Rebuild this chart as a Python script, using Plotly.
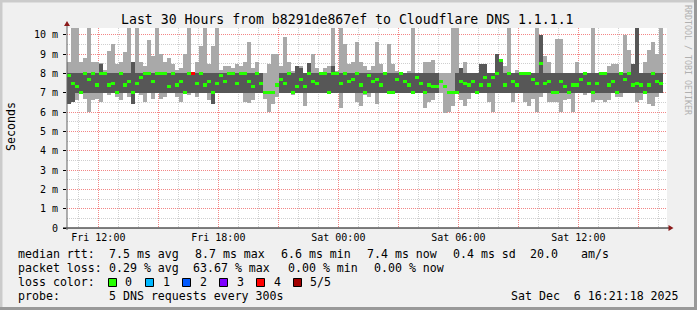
import plotly.graph_objects as go
import pandas as pd

# ---------------- data ----------------
START = "2025-12-05 10:26:00"
END = "2025-12-06 16:26:00"
STEP_MIN = 12  # one smoke column per 12 minutes

# top / bottom of the light smoke (ms)
smoke_hi = [8.6, 10.4, 10.4, 8.6, 8.8, 10.4, 8.6, 8.6, 8.55, 8.2,
            9.15, 9.5, 8.5, 8.6, 9.1, 10.4, 8.6, 10.4, 8.6, 8.4,
            9.75, 8.9, 10.4, 9.0, 8.6, 8.8, 8.5, 8.2, 8.3, 9.0,
            10.4, 8.0, 8.6, 9.4, 10.4, 8.5, 9.4, 10.4, 8.2, 8.4,
            8.4, 8.3, 8.5, 8.4, 8.6, 9.65, 8.3, 8.6, 8.0, 8.0,
            8.5, 9.0, 9.0, 8.4, 9.9, 8.6, 8.1, 8.4, 8.4, 8.0,
            8.55, 9.0, 8.3, 8.0, 8.3, 8.4, 10.4, 8.1, 10.4, 9.5,
            8.5, 8.6, 9.65, 8.6, 8.4, 8.2, 8.4, 9.6, 8.5, 8.0,
            9.5, 8.5, 8.1, 8.0, 8.0, 8.1, 10.4, 8.0, 8.0, 8.6,
            8.6, 8.7, 8.0, 8.0, 8.0, 8.0, 10.4, 10.4, 8.3, 8.6,
            8.0, 8.0, 8.0, 8.5, 8.5, 8.0, 8.0, 9.0, 8.7, 8.4,
            10.4, 8.0, 8.2, 8.0, 8.0, 8.0, 8.0, 10.4, 10.0, 8.9,
            8.6, 8.0, 9.8, 9.8, 8.0, 8.0, 8.0, 8.6, 8.0, 8.0,
            8.0, 10.4, 8.0, 8.0, 8.0, 8.4, 8.5, 8.5, 8.0, 10.0,
            9.2, 8.5, 10.4, 8.0, 8.6, 9.2, 9.65, 9.0, 10.4, None]

smoke_lo = [6.4, 6.5, 6.6, 7.0, 6.7, 6.0, 6.6, 6.7, 6.5, 7.0,
            6.9, 7.0, 6.8, 6.6, 7.0, 6.8, 6.4, 7.0, 6.9, 6.5,
            7.0, 6.7, 7.0, 6.7, 6.8, 7.0, 7.0, 6.8, 6.5, 7.0,
            6.9, 7.0, 6.8, 7.0, 7.0, 6.6, 6.4, 7.0, 7.0, 7.0,
            7.0, 7.0, 7.0, 7.0, 6.5, 6.45, 6.6, 7.0, 7.0, 6.7,
            6.0, 6.4, 6.8, 7.0, 7.0, 7.0, 6.9, 7.0, 7.0, 6.3,
            7.0, 7.0, 7.0, 7.0, 7.0, 7.0, 7.0, 7.0, 6.2, 7.0,
            7.0, 7.0, 6.5, 6.3, 6.9, 6.8, 7.0, 6.4, 7.0, 7.0,
            7.0, 7.0, 7.0, 7.0, 7.0, 7.0, 7.0, 7.0, 7.0, 6.2,
            6.5, 6.6, 7.0, 7.0, 5.95, 6.0, 6.3, 7.0, 6.6, 6.3,
            6.7, 7.0, 7.0, 7.0, 7.0, 6.5, 6.0, 7.0, 7.0, 7.0,
            7.0, 6.5, 7.0, 7.0, 6.5, 6.3, 6.7, 6.0, 6.8, 7.0,
            6.5, 6.5, 6.5, 6.0, 6.6, 6.7, 6.0, 7.0, 7.0, 6.9,
            7.0, 6.5, 6.6, 6.6, 6.5, 6.6, 7.0, 6.8, 6.8, 7.0,
            7.0, 7.0, 6.5, 6.6, 7.0, 6.4, 6.3, 6.8, 7.0, None]

# dense (dark) part of the smoke
dark_lo = [6.4, 6.5, 7, 7, 7, 7, 7, 7, 7, 7,
           7, 7, 7, 7, 7, 7, 6.4, 7, 7, 7,
           7, 7, 7, 7, 7, 7, 7, 7, 7, 7,
           7, 7, 7, 7, 7, 7, 6.4, 7, 7, 7,
           7, 7, 7, 7, 7, 7, 7, 7, 7, None,
           None, None, None, 7, 7, 7, 7, 7, 7, 7,
           7, 7, 7, 7, 7, 7, 7, 7, 7, 7,
           7, 7, 7, 7, 7, 7, 7, 7, 7, 7,
           7, 7, 7, 7, 7, 7, 7, 7, 7, 7,
           7, 7, 7, None, None, None, None, 7, 7, 7,
           7, 7, 7, 7, 7, 7, 7, 7, 7, 7,
           7, 7, 7, 7, 7, 7, 7, 7, 7, 7,
           7, 7, 7, 7, 7, 7, 7, 7, 7, 7,
           7, 7, 7, 7, 7, 7, 7, 7, 7, 7,
           7, 7, 7, 7, 7, 7, 7, 7, 7, None]

dark_hi = [8, 8, 8, 8, 8, 8, 8, 8, 8.5, 8,
           8, 8, 8, 8, 8, 8, 8.6, 8, 8, 8,
           8, 8, 8, 8, 8, 8, 8, 8, 8, 8,
           8, 8, 8, 8, 8, 8, 8, 8, 8, 8,
           8, 8, 8, 8, 8, 8, 8, 8, 8, None,
           None, None, None, 8, 8, 8, 8, 8.4, 8.3, 8,
           8.55, 8, 8, 8, 8, 8, 8.4, 8, 8, 8,
           8, 8, 8, 8, 8, 8, 8, 8, 8, 8,
           8, 8, 8, 8, 8, 8, 8, 8, 8, 8,
           8, 8, 8, None, None, None, None, 8, 8.3, 8,
           8, 8, 8, 8.5, 8.5, 8, 8, 9.0, 8.7, 8,
           8, 8, 8, 8, 8, 8, 8, 8, 10.0, 8,
           8, 8, 8, 8, 8, 8, 8, 8, 8, 8,
           8, 8, 8, 8, 8, 8, 8, 8, 8, 8,
           8, 8.5, 10.4, 8, 8, 8, 8, 8, 8, None]

median = [7.9, 7.5, 7.3, 7.0, 8.0, 7.7, 8.0, 7.4, 8.0, 8.0,
          7.4, 7.5, 7.0, 8.0, 7.4, 7.6, 7.0, 7.5, 7.8, 8.0,
          8.0, 7.6, 8.0, 8.0, 8.0, 7.3, 8.0, 7.4, 7.6, 7.0,
          8.0, 8.0, 7.5, 8.0, 7.4, 7.6, 7.0, 7.5, 7.9, 7.6,
          8.0, 8.0, 7.5, 8.0, 8.0, 7.6, 7.3, 8.0, 7.5, 7.0,
          7.0, 7.0, 7.4, 7.7, 7.5, 8.0, 7.0, 7.3, 7.7, 7.3,
          8.0, 7.6, 7.5, 8.0, 8.0, 7.0, 8.0, 8.0, 7.5, 8.0,
          7.6, 7.7, 8.0, 7.4, 7.0, 7.9, 7.6, 7.7, 7.4, 8.0,
          7.0, 7.0, 7.7, 8.0, 7.6, 7.4, 7.0, 7.8, 7.5, 7.0,
          7.4, 7.3, 7.3, 7.6, 7.3, 7.0, 7.0, 7.0, 7.6, 7.5,
          7.4, 7.6, 7.0, 7.4, 7.8, 7.4, 7.8, 8.0, 8.65, 7.4,
          8.0, 7.6, 7.4, 8.0, 8.0, 8.0, 7.7, 7.5, 8.5, 7.5,
          7.6, 7.0, 7.0, 7.6, 7.3, 7.0, 7.4, 7.4, 7.7, 8.0,
          7.5, 7.0, 7.5, 8.0, 8.0, 7.4, 7.6, 7.0, 8.0, 7.7,
          8.0, 7.4, 7.5, 7.4, 7.0, 7.4, 8.0, 7.6, 7.5, None]

# packets lost (of 5) per column
loss = [0] * 31 + [4] + [0] * 118

loss_colors = ["#26ff00", "#00b8ff", "#0059ff", "#7e00ff", "#ff0000", "#a10000"]
loss_labels = ["0", "1", "2", "3", "4", "5/5"]

tick_times = ["2025-12-05 12:00", "2025-12-05 15:00", "2025-12-05 18:00",
              "2025-12-05 21:00", "2025-12-06 00:00", "2025-12-06 03:00",
              "2025-12-06 06:00", "2025-12-06 09:00", "2025-12-06 12:00",
              "2025-12-06 15:00"]
tick_text = ["Fri 12:00", "", "Fri 18:00", "", "Sat 00:00", "",
             "Sat 06:00", "", "Sat 12:00", ""]
y_ticks = [0, 1, 2, 3, 4, 5, 6, 7, 8, 9, 10]
y_text = ["0", "1 m", "2 m", "3 m", "4 m", "5 m", "6 m", "7 m", "8 m", "9 m", "10 m"]

title = "Last 30 Hours from b8291de867ef to Cloudflare DNS 1.1.1.1"
legend_rows = [
    [("median rtt:", 16), ("7.5 ms avg", 107), ("8.7 ms max", 193), ("6.6 ms min", 279),
     ("7.4 ms now", 364.5), ("0.4 ms sd", 451), ("20.0", 528), ("am/s", 579)],
    [("packet loss:", 16), ("0.29 % avg", 107), ("63.67 % max", 190.5), ("0.00 % min", 286),
     ("0.00 % now", 372)],
    [("loss color:", 16)],
    [("probe:", 16), ("5 DNS requests every 300s", 107)],
]
stamp = "Sat Dec\u00a0\u00a06 16:21:18 2025"

# ---------------- geometry helpers ----------------
W_PX, H_PX = 697, 310
L, R, T, B = 67, 30, 28, 82
PW, PH = W_PX - L - R, H_PX - T - B
YMAX = 10.35


def px(x):
    return (x - L) / PW


def py(y):
    return (H_PX - B - y) / PH


N = len(smoke_hi)
times = pd.date_range(START, periods=N, freq=f"{STEP_MIN}min") + pd.Timedelta(minutes=STEP_MIN / 2)
WIDTH_MS = STEP_MIN * 60 * 1000

fig = go.Figure()


def floating_bars(base, top, colors):
    xs, bs, hs, cs = [], [], [], []
    for i, (t, b, tp) in enumerate(zip(times, base, top)):
        if b is None or tp is None:
            continue
        xs.append(t)
        bs.append(b)
        hs.append(tp - b)
        cs.append(colors[i] if isinstance(colors, list) else colors)
    fig.add_bar(x=xs, y=hs, base=bs, width=WIDTH_MS,
                marker=dict(color=cs, line=dict(width=0)),
                hoverinfo="skip", showlegend=False)


floating_bars(smoke_lo, smoke_hi, "#a9a9a9")
floating_bars(dark_lo, dark_hi, "#575757")
med_lo = [None if m is None else m - 0.08 for m in median]
med_hi = [None if m is None else m + 0.08 for m in median]
floating_bars(med_lo, med_hi, [loss_colors[l] for l in loss])

fig.update_layout(
    width=W_PX, height=H_PX,
    margin=dict(l=L, r=R, t=T, b=B, pad=0),
    paper_bgcolor="#f0f0f0", plot_bgcolor="#ffffff",
    barmode="overlay", bargap=0, showlegend=False,
    font=dict(family="DejaVu Sans Mono", size=10, color="#000000"),
)

fig.update_xaxes(
    type="date", range=[START, END],
    tickvals=tick_times, ticktext=tick_text, ticks="",
    showgrid=True, gridcolor="rgba(255,110,110,0.75)", griddash="1px,1px", gridwidth=1,
    minor=dict(dtick=3600000, tick0="2025-12-05 00:00", showgrid=True,
               gridcolor="#cfcfcf", griddash="1px,1px", gridwidth=1),
    showline=False, zeroline=False, tickfont=dict(size=10),
    ticklabelstandoff=2,
)
fig.update_yaxes(
    range=[0, YMAX], tickvals=y_ticks, ticktext=y_text,
    ticks="outside", ticklen=3, tickcolor="#000000",
    showgrid=True, gridcolor="rgba(255,110,110,0.75)", griddash="1px,1px", gridwidth=1,
    minor=dict(dtick=0.5, tick0=0, showgrid=True, gridcolor="#cfcfcf",
               griddash="1px,1px", gridwidth=1),
    showline=False, zeroline=False, tickfont=dict(size=10),
    ticklabelstandoff=3,
)

shapes = []
# axes
shapes.append(dict(type="line", xref="paper", yref="paper", x0=px(63), x1=px(670),
                   y0=0, y1=0, line=dict(color="#000000", width=1)))
shapes.append(dict(type="line", xref="paper", yref="paper", x0=0, x1=0,
                   y0=py(230), y1=py(24), line=dict(color="#606060", width=1)))
# arrows
shapes.append(dict(type="path", xref="paper", yref="paper",
                   path=f"M {px(668.5)} {py(225)} L {px(673.5)} {py(228)} L {px(668.5)} {py(231)} Z",
                   fillcolor="#8b1a1a", line=dict(width=0)))
shapes.append(dict(type="path", xref="paper", yref="paper",
                   path=f"M {px(64)} {py(26)} L {px(67)} {py(21)} L {px(70)} {py(26)} Z",
                   fillcolor="#8b1a1a", line=dict(width=0)))
# loss colour boxes
box_x = [108.5, 145.5, 182.5, 219.5, 256.5, 293.5]
label_x = [123, 160.5, 197.5, 234.5, 271.5, 308]
for bx, col in zip(box_x, loss_colors):
    shapes.append(dict(type="rect", xref="paper", yref="paper",
                       x0=px(bx), x1=px(bx + 8), y0=py(286.5), y1=py(278.5),
                       fillcolor=col, line=dict(color="#000000", width=1)))
# image border
shapes.append(dict(type="rect", xref="paper", yref="paper", x0=px(0), x1=px(697),
                   y0=py(0), y1=py(2.5), fillcolor="#cbcbcb", line=dict(width=0)))
shapes.append(dict(type="rect", xref="paper", yref="paper", x0=px(0), x1=px(2.5),
                   y0=py(0), y1=py(310), fillcolor="#cbcbcb", line=dict(width=0)))
shapes.append(dict(type="rect", xref="paper", yref="paper", x0=px(0), x1=px(697),
                   y0=py(307), y1=py(310), fillcolor="#999999", line=dict(width=0)))
shapes.append(dict(type="rect", xref="paper", yref="paper", x0=px(694), x1=px(697),
                   y0=py(0), y1=py(310), fillcolor="#999999", line=dict(width=0)))
fig.update_layout(shapes=shapes)

ann = []
ann.append(dict(text=title, xref="paper", yref="paper", x=px(347), y=py(19.5),
                xanchor="center", yanchor="middle", showarrow=False,
                font=dict(size=13.2, family="DejaVu Sans Mono", color="#000000")))
ann.append(dict(text="Seconds", xref="paper", yref="paper", x=px(11), y=py(127),
                xanchor="center", yanchor="middle", textangle=-90, showarrow=False,
                font=dict(size=11.6, family="DejaVu Sans Mono", color="#000000")))
ann.append(dict(text="RRDTOOL / TOBI OETIKER", xref="paper", yref="paper", x=px(688), y=py(60),
                xanchor="center", yanchor="middle", textangle=90, showarrow=False,
                font=dict(size=8.3, family="DejaVu Sans Mono", color="#b0b0b0")))
row_y = [254, 268, 282, 295.5]
for row, yy in zip(legend_rows, row_y):
    for text, xx in row:
        ann.append(dict(text=text.replace(" ", "\u00a0"), xref="paper", yref="paper",
                        x=px(xx), y=py(yy), xanchor="left", yanchor="middle",
                        showarrow=False,
                        font=dict(size=11.6, family="DejaVu Sans Mono", color="#000000")))
for lx, lab in zip(label_x, loss_labels):
    ann.append(dict(text=lab, xref="paper", yref="paper", x=px(lx), y=py(row_y[2]),
                    xanchor="left", yanchor="middle", showarrow=False,
                    font=dict(size=11.6, family="DejaVu Sans Mono", color="#000000")))
ann.append(dict(text=stamp, xref="paper", yref="paper", x=px(680.5), y=py(row_y[3]),
                xanchor="right", yanchor="middle", showarrow=False,
                font=dict(size=11.6, family="DejaVu Sans Mono", color="#000000")))
fig.update_layout(annotations=ann)

fig.write_html("out.html")
